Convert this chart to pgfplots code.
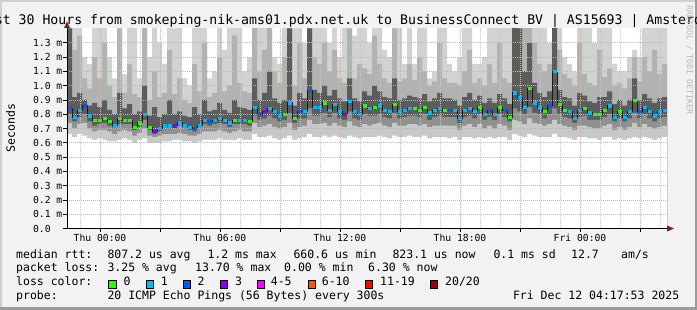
\documentclass[border=0pt]{standalone}
\usepackage{fontspec}
\usepackage{pgfplots}
\usepackage{pgfplotstable}
\pgfplotsset{compat=1.18}
\newfontfamily\dvm{DejaVu Sans Mono}
\definecolor{bgc}{HTML}{F2F2F2}
\definecolor{shA}{HTML}{CFCFCF}
\definecolor{shB}{HTML}{9C9C9C}
\definecolor{gridred}{HTML}{F4A0A0}
\definecolor{gridgray}{HTML}{C8C8C8}
\definecolor{arrowred}{HTML}{8B1A1A}
\definecolor{s1}{HTML}{D2D2D2}
\definecolor{s2}{HTML}{B2B2B2}
\definecolor{s3}{HTML}{5C5C5C}
\definecolor{s4}{HTML}{909090}
\definecolor{s5}{HTML}{C8C8C8}
\definecolor{l0}{HTML}{26FF00}
\definecolor{l1}{HTML}{00B8FF}
\definecolor{l2}{HTML}{0059FF}
\definecolor{l3}{HTML}{7E00FF}
\definecolor{l4}{HTML}{FF00FF}
\definecolor{l6}{HTML}{FF5500}
\definecolor{l11}{HTML}{FF0000}
\definecolor{l20}{HTML}{A00000}

\pgfplotstableread{
x lo p10 p25 med p75 p90 hi loss
-1.65 .66 .74 .80 0.84 1.40 1.50 1.50 2
-1.40 .64 .70 .75 0.78 .92 1.25 1.45 1
-1.15 .66 .73 .78 0.83 .95 1.35 1.50 1
-0.90 .65 .74 .80 0.86 .90 1.05 1.20 2
-0.65 .63 .70 .75 0.79 .86 .98 1.15 1
-0.40 .62 .68 .72 0.76 .88 1.20 1.45 0
-0.15 .63 .69 .73 0.76 .85 1.05 1.45 0
0.10 .62 .69 .74 0.77 .90 1.30 1.45 0
0.35 .61 .68 .72 0.75 .83 1.00 1.20 0
0.60 .61 .66 .70 0.72 .80 .92 1.05 1
0.85 .62 .68 .73 0.77 .95 1.40 1.50 0
1.10 .63 .69 .73 0.76 .84 .95 1.08 0
1.35 .62 .68 .73 0.76 .87 1.15 1.45 0
1.60 .60 .65 .69 0.71 .80 .94 1.45 0
1.85 .62 .67 .71 0.74 .82 .92 1.05 0
2.10 .63 .70 .76 0.80 1.00 1.45 1.50 1
2.35 .60 .65 .69 0.71 .79 .90 1.20 0
2.60 .60 .64 .66 0.68 .85 1.10 1.45 3
2.85 .60 .65 .68 0.70 .78 .92 1.30 1
3.10 .61 .66 .70 0.72 .80 .95 1.15 1
3.35 .61 .66 .70 0.72 .90 1.25 1.45 1
3.60 .62 .66 .70 0.72 .80 .94 1.40 3
3.85 .62 .67 .72 0.74 .82 1.05 1.45 1
4.10 .61 .66 .70 0.72 .79 .90 1.05 1
4.35 .61 .65 .69 0.71 .78 .88 1.00 1
4.60 .60 .65 .68 0.70 .85 1.15 1.45 2
4.85 .61 .66 .70 0.72 .80 .96 1.45 1
5.10 .62 .68 .73 0.76 .90 1.30 1.50 1
5.35 .62 .68 .72 0.75 .82 .92 1.05 2
5.60 .62 .68 .73 0.76 .83 .95 1.10 1
5.85 .63 .69 .74 0.77 .88 1.20 1.45 1
6.10 .62 .68 .73 0.76 .83 .96 1.25 1
6.35 .62 .67 .71 0.74 .81 1.00 1.45 1
6.60 .62 .68 .73 0.76 .90 1.35 1.50 0
6.85 .63 .69 .73 0.76 .85 1.02 1.45 1
7.10 .62 .68 .73 0.76 .84 .96 1.10 1
7.35 .62 .68 .72 0.75 .83 .95 1.20 0
7.60 .66 .74 .79 0.85 1.05 1.45 1.50 1
7.85 .64 .71 .76 0.80 .90 1.10 1.45 2
8.10 .64 .72 .77 0.82 .95 1.25 1.45 3
8.35 .65 .73 .79 0.84 1.10 1.45 1.50 1
8.60 .63 .71 .77 0.82 .91 1.10 1.20 1
8.85 .62 .70 .75 0.79 .88 1.02 1.15 1
9.10 .63 .71 .76 0.80 .90 1.20 1.45 0
9.35 .65 .74 .81 0.88 1.40 1.50 1.50 1
9.60 .62 .69 .74 0.77 .86 1.00 1.45 0
9.85 .63 .71 .77 0.82 .95 1.30 1.45 2
10.10 .64 .72 .77 0.82 .91 1.05 1.30 1
10.35 .66 .76 .84 0.97 1.40 1.50 1.50 2
10.60 .64 .73 .79 0.85 .97 1.20 1.45 1
10.85 .64 .73 .79 0.85 .95 1.15 1.45 1
11.10 .65 .74 .81 0.88 1.00 1.30 1.50 0
11.35 .64 .72 .78 0.83 .93 1.10 1.30 1
11.60 .65 .74 .81 0.87 .97 1.25 1.45 1
11.85 .64 .72 .77 0.82 .91 1.05 1.20 1
12.10 .63 .71 .76 0.80 .89 1.02 1.45 3
12.35 .65 .75 .82 0.89 1.05 1.40 1.50 1
12.60 .64 .72 .77 0.82 .91 1.05 1.35 1
12.85 .63 .71 .76 0.80 .89 1.15 1.45 1
13.10 .64 .73 .80 0.86 .96 1.12 1.45 0
13.35 .64 .72 .79 0.84 .93 1.08 1.30 1
13.60 .64 .73 .79 0.85 1.00 1.35 1.50 0
13.85 .65 .74 .80 0.86 .96 1.15 1.45 1
14.10 .64 .72 .78 0.83 .92 1.05 1.25 1
14.35 .63 .71 .77 0.82 .91 1.02 1.20 1
14.60 .65 .74 .81 0.87 1.05 1.40 1.50 0
14.85 .64 .72 .77 0.82 .90 1.03 1.45 1
15.10 .64 .72 .78 0.83 .91 1.05 1.15 1
15.35 .65 .73 .79 0.84 .93 1.15 1.45 1
15.60 .64 .73 .79 0.84 .92 1.04 1.15 0
15.85 .64 .72 .78 0.83 .91 1.20 1.45 0
16.10 .65 .73 .80 0.85 .94 1.10 1.45 0
16.35 .63 .71 .76 0.81 .89 1.00 1.05 1
16.60 .64 .72 .78 0.83 .91 1.03 1.10 1
16.85 .64 .72 .79 0.84 .95 1.30 1.45 1
17.10 .64 .72 .78 0.83 .91 1.05 1.45 0
17.35 .63 .72 .78 0.83 .91 1.02 1.15 2
17.60 .64 .72 .78 0.83 .90 1.02 1.10 1
17.85 .62 .69 .74 0.77 .86 1.00 1.20 1
18.10 .64 .72 .78 0.83 .92 1.10 1.45 1
18.35 .64 .73 .79 0.84 .95 1.25 1.45 1
18.60 .63 .71 .77 0.82 .90 1.02 1.15 1
18.85 .64 .73 .80 0.85 .93 1.05 1.15 0
19.10 .63 .70 .76 0.80 .88 1.00 1.20 1
19.35 .64 .72 .78 0.83 .91 1.15 1.45 2
19.60 .63 .70 .76 0.80 .88 1.02 1.45 1
19.85 .64 .73 .80 0.85 .94 1.30 1.50 0
20.10 .64 .72 .78 0.83 .91 1.05 1.45 2
20.35 .62 .69 .75 0.78 .87 1.02 1.45 0
20.60 .66 .76 .84 0.95 1.45 1.50 1.50 1
20.85 .65 .75 .82 0.92 1.40 1.50 1.50 1
21.10 .64 .73 .80 0.85 1.10 1.45 1.50 1
21.35 .66 .77 .85 0.98 1.30 1.50 1.50 0
21.60 .65 .74 .81 0.88 1.02 1.30 1.45 1
21.85 .64 .73 .80 0.85 .95 1.15 1.45 1
22.10 .64 .72 .77 0.82 .92 1.10 1.45 0
22.35 .64 .73 .80 0.86 .96 1.15 1.30 2
22.60 .66 .76 .84 1.10 1.45 1.50 1.50 1
22.85 .64 .73 .80 0.87 .97 1.25 1.45 0
23.10 .64 .72 .78 0.83 .92 1.08 1.20 0
23.35 .63 .71 .77 0.82 .91 1.05 1.15 1
23.60 .62 .69 .74 0.77 .86 1.00 1.10 1
23.85 .64 .72 .78 0.83 .95 1.30 1.45 1
24.10 .64 .72 .79 0.84 .93 1.08 1.45 0
24.35 .63 .71 .76 0.81 .89 1.02 1.45 1
24.60 .63 .70 .76 0.80 .88 1.00 1.30 0
24.85 .62 .70 .76 0.80 .92 1.25 1.45 0
25.10 .64 .72 .78 0.83 .92 1.06 1.45 0
25.35 .64 .73 .80 0.86 .96 1.12 1.45 1
25.60 .62 .69 .75 0.78 .87 1.00 1.15 1
25.85 .63 .71 .77 0.82 .90 1.02 1.10 0
26.10 .62 .69 .75 0.78 .86 .98 1.10 1
26.35 .63 .71 .77 0.82 .90 1.05 1.20 1
26.60 .64 .74 .81 0.90 1.05 1.20 1.25 0
26.85 .63 .71 .77 0.82 .90 1.03 1.20 2
27.10 .64 .73 .80 0.85 .94 1.20 1.45 1
27.35 .63 .71 .77 0.82 .91 1.10 1.45 1
27.60 .62 .70 .75 0.79 .88 1.25 1.50 1
27.85 .63 .71 .77 0.82 .91 1.08 1.45 1
28.10 .64 .72 .78 0.83 .92 1.15 1.45 1
28.35 .64 .72 .78 0.83 .92 1.15 1.45 9
}\smoke

\newcommand{\lgfont}{\fontsize{11.5bp}{13bp}\dvm}
\newcommand{\lgt}[3]{\node[anchor=base west, inner sep=0pt, font=\lgfont] at (#1bp,#2bp) {#3};}
\newcommand{\lbox}[2]{\filldraw[fill=#2, draw=black, line width=0.9bp] (#1bp,21.9bp) rectangle ++(7.6bp,7.6bp);}

\begin{document}
\begin{tikzpicture}
\useasboundingbox (0,0) rectangle (697bp,310bp);
\clip (0,0) rectangle (697bp,310bp);
\fill[bgc] (0,0) rectangle (697bp,310bp);
\fill[shA] (0,0) rectangle (2bp,310bp);
\fill[shA] (0,308bp) rectangle (697bp,310bp);
\fill[shB] (0,0) rectangle (697bp,2.5bp);
\fill[shB] (694.5bp,0) rectangle (697bp,310bp);

\begin{axis}[name=ax, at={(67bp,81.5bp)}, anchor=south west,
  scale only axis, width=600bp, height=200bp,
  xmin=-1.65, xmax=28.35, ymin=0, ymax=1.4,
  axis x line*=bottom, axis y line*=left,
  axis line style={-, black, line width=0.8bp},
  axis on top,
  axis background/.style={fill=white},
  xtick={0,3,6,9,12,15,18,21,24,27},
  xticklabels={Thu 00:00,,Thu 06:00,,Thu 12:00,,Thu 18:00,,Fri 00:00,},
  minor xtick={-1,1,2,4,5,7,8,10,11,13,14,16,17,19,20,22,23,25,26,28},
  ytick={0,0.1,0.2,0.3,0.4,0.5,0.6,0.7,0.8,0.9,1.0,1.1,1.2,1.3},
  yticklabels={0.0\phantom{ m},0.1 m,0.2 m,0.3 m,0.4 m,0.5 m,0.6 m,0.7 m,0.8 m,0.9 m,1.0 m,1.1 m,1.2 m,1.3 m},
  xmajorgrids, ymajorgrids, xminorgrids,
  major grid style={color=gridred, dash pattern=on 1bp off 1bp, line width=0.7bp},
  minor grid style={color=gridgray, dash pattern=on 1bp off 1bp, line width=0.7bp},
  tick align=outside, major tick length=3.5bp, minor tick length=0pt,
  tick style={black, line width=0.7bp},
  xticklabel style={font=\fontsize{9.7bp}{11bp}\dvm, anchor=north, inner sep=0pt, yshift=-2bp},
  yticklabel style={font=\fontsize{9.7bp}{11bp}\dvm, anchor=east, inner sep=0pt, xshift=-1bp},
]
\addplot[const plot, draw=none, fill=s1] table[x=x, y=hi] {\smoke} \closedcycle;
\addplot[const plot, draw=none, fill=s2] table[x=x, y=p90] {\smoke} \closedcycle;
\addplot[const plot, draw=none, fill=s3] table[x=x, y=p75] {\smoke} \closedcycle;
\addplot[const plot, draw=none, fill=s4] table[x=x, y=p25] {\smoke} \closedcycle;
\addplot[const plot, draw=none, fill=s5] table[x=x, y=p10] {\smoke} \closedcycle;
\addplot[const plot, draw=none, fill=white] table[x=x, y=lo] {\smoke} \closedcycle;
\addplot[const plot, draw=black!90, line width=0.6bp] table[x=x, y=med] {\smoke};
\addplot[only marks, mark=square*, mark size=1.2bp, color=l0, restrict expr to domain={\thisrow{loss}}{-0.5:0.5}]
  table[x expr=\thisrow{x}+0.125, y=med] {\smoke};
\addplot[only marks, mark=square*, mark size=1.2bp, color=l1, restrict expr to domain={\thisrow{loss}}{0.5:1.5}]
  table[x expr=\thisrow{x}+0.125, y=med] {\smoke};
\addplot[only marks, mark=square*, mark size=1.2bp, color=l2, restrict expr to domain={\thisrow{loss}}{1.5:2.5}]
  table[x expr=\thisrow{x}+0.125, y=med] {\smoke};
\addplot[only marks, mark=square*, mark size=1.2bp, color=l3, restrict expr to domain={\thisrow{loss}}{2.5:3.5}]
  table[x expr=\thisrow{x}+0.125, y=med] {\smoke};
\end{axis}

% arrows
\fill[arrowred] (667bp,78.5bp) -- (674bp,81.5bp) -- (667bp,84.5bp) -- cycle;
\fill[arrowred] (64bp,282bp) -- (67bp,288.5bp) -- (70bp,282bp) -- cycle;

% title
\node[anchor=base, inner sep=0pt, font=\fontsize{13.2bp}{15bp}\dvm] at (348.5bp,285.7bp)
  {Last 30 Hours from smokeping-nik-ams01.pdx.net.uk to BusinessConnect BV | AS15693 | Amsterdam};
% y label
\node[rotate=90, inner sep=0pt, font=\fontsize{11.5bp}{13bp}\dvm] at (10.5bp,182bp) {Seconds};
% watermark
\node[rotate=-90, inner sep=0pt, text=black!28, font=\fontsize{8.3bp}{9bp}\dvm] at (689.5bp,250bp) {RRDTOOL / TOBI OETIKER};

% legend
\lgt{16}{51.7}{median rtt:}
\lgt{107.3}{51.7}{807.2 us avg}
\lgt{207.3}{51.7}{1.2 ms max}
\lgt{293.3}{51.7}{660.6 us min}
\lgt{392.3}{51.7}{823.1 us now}
\lgt{493.3}{51.7}{0.1 ms sd}
\lgt{571}{51.7}{12.7}
\lgt{621}{51.7}{am/s}

\lgt{16}{38.2}{packet loss:}
\lgt{107.3}{38.2}{3.25 \% avg}
\lgt{195}{38.2}{13.70 \% max}
\lgt{284}{38.2}{0.00 \% min}
\lgt{368}{38.2}{6.30 \% now}

\lgt{16}{24.4}{loss color:}
\lbox{108.6}{l0}\lgt{123.3}{24.4}{0}
\lbox{146}{l1}\lgt{160.7}{24.4}{1}
\lbox{183}{l2}\lgt{197.3}{24.4}{2}
\lbox{220.3}{l3}\lgt{235}{24.4}{3}
\lbox{257}{l4}\lgt{270.7}{24.4}{4-5}
\lbox{308}{l6}\lgt{321.7}{24.4}{6-10}
\lbox{365.3}{l11}\lgt{380}{24.4}{11-19}
\lbox{430.3}{l20}\lgt{445}{24.4}{20/20}

\lgt{16}{10.6}{probe:}
\lgt{107.3}{10.6}{20 ICMP Echo Pings (56 Bytes) every 300s}
\node[anchor=base east, inner sep=0pt, font=\lgfont] at (679.4bp,10.6bp) {Fri Dec 12 04:17:53 2025};
\end{tikzpicture}
\end{document}
